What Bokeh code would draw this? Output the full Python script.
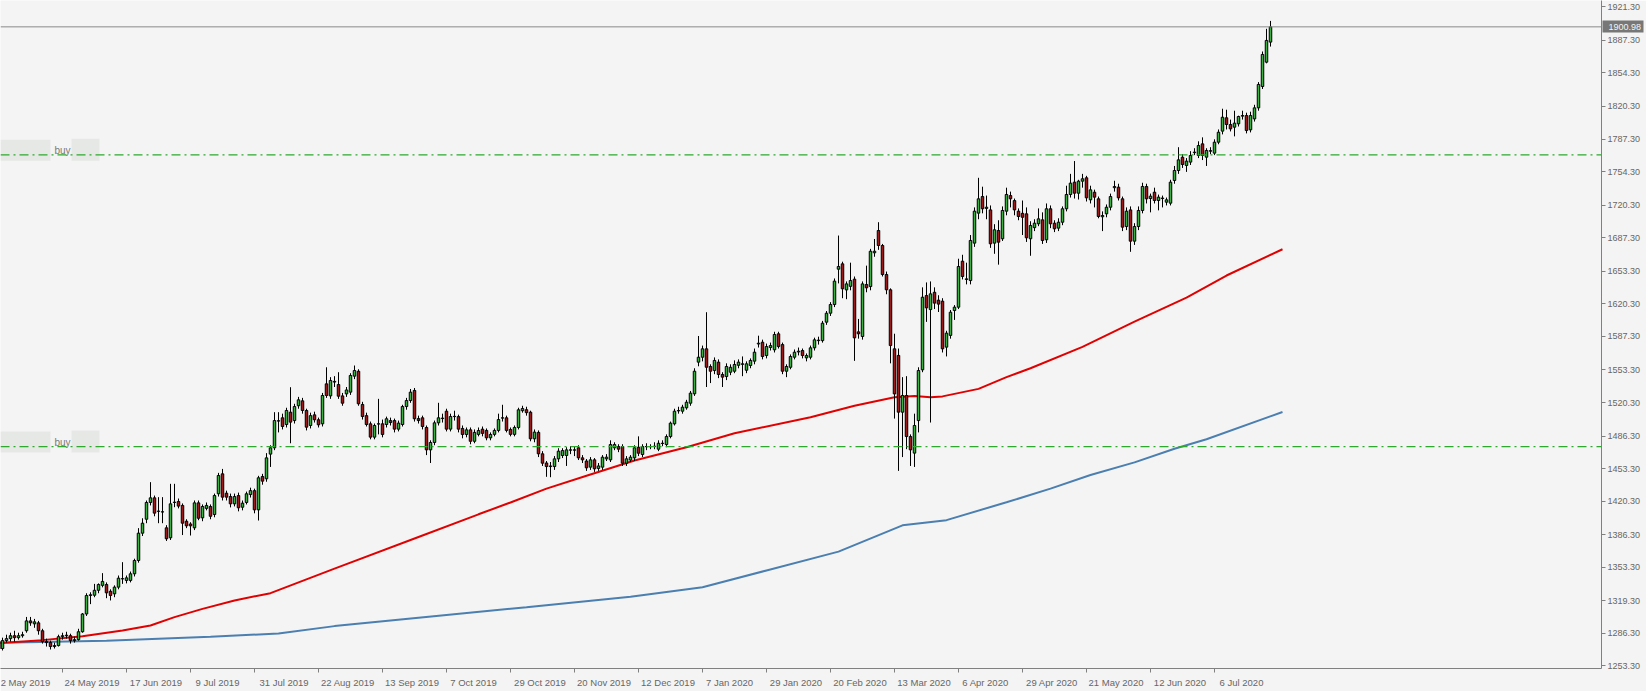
from bokeh.plotting import figure
from bokeh.models import (ColumnDataSource, Range1d, LinearAxis, FixedTicker, Span,
                          Label, PrintfTickFormatter, BoxAnnotation)
from bokeh.embed import file_html
from bokeh.resources import INLINE

# ---------------- data (daily XAUUSD, bars indexed from 2 May 2019) ----------------
open_ = [1278, 1271, 1279, 1281, 1284, 1282, 1284, 1289, 1299, 1296, 1297, 1289, 1278, 1277, 1273, 1274, 1283, 1284.5, 1284, 1279,
         1280, 1288, 1306, 1324.7, 1325, 1330, 1335, 1335.9, 1329, 1326.4, 1333.2, 1341.6, 1340, 1340, 1346.7, 1360.2, 1387.9, 1402, 1419, 1423.7,
         1410, 1409.5, 1393.3, 1383.2, 1419, 1420, 1416, 1400, 1397.2, 1393.3, 1418.6, 1403.4, 1413, 1414.9, 1406.8, 1427.8, 1448, 1428.4, 1425, 1417.6,
         1426, 1414.2, 1419, 1427, 1431, 1411.5, 1445.3, 1443, 1468, 1474.4, 1501.8, 1504.8, 1498, 1510.5, 1502, 1517, 1522, 1512.2, 1497, 1507.8,
         1502.8, 1498.7, 1539.2, 1527, 1541, 1538.5, 1527, 1529, 1530.8, 1547, 1552, 1518.3, 1507, 1498.7, 1485.2, 1498.5, 1498.7, 1498, 1502, 1502,
         1493.3, 1498, 1516.2, 1522.3, 1532.5, 1504, 1504.8, 1495, 1472.3, 1479.8, 1499.7, 1504, 1511.5, 1493.3, 1506.3, 1506, 1494, 1487.9, 1492.6, 1481,
         1488, 1493.3, 1492, 1484.5, 1488, 1492, 1504.5, 1504.8, 1493, 1488, 1495, 1512, 1513, 1510.5, 1483.5, 1490, 1468.3, 1459, 1455.4, 1455.4,
         1463.2, 1466.6, 1466.6, 1472, 1472.3, 1474.4, 1464.2, 1461, 1454.8, 1462.2, 1453.5, 1454.8, 1463.2, 1462.2, 1474.4, 1475.7, 1475.7, 1458.8, 1462, 1464.2,
         1475, 1467.6, 1475.5, 1475.5, 1475.7, 1473, 1478.8, 1477.7, 1485.8, 1498.7, 1511.8, 1511.5, 1514.9, 1519.6, 1529.1, 1561.2, 1566.2, 1574.7, 1556.8, 1552.7,
         1561.2, 1548.7, 1546.6, 1551, 1552, 1558, 1559, 1553, 1557.8, 1562.2, 1579.6, 1581.4, 1567.9, 1576, 1573.7, 1589.9, 1579, 1552, 1556, 1566.2,
         1571.5, 1573, 1565.5, 1566.2, 1575.7, 1583, 1583, 1601.7, 1610.8, 1619.6, 1655.4, 1660.8, 1634.4, 1638, 1645.3, 1591.9, 1587.2, 1639.9, 1637.8, 1672,
         1694.6, 1679.4, 1650, 1634.5, 1574.7, 1568, 1510.5, 1527.4, 1485.8, 1469, 1502, 1553.4, 1628.7, 1614.5, 1632, 1624, 1623, 1576.4, 1588.3, 1613.5,
         1616.9, 1663.5, 1645, 1643.9, 1681.8, 1712.2, 1729, 1717, 1715.5, 1681.8, 1694.6, 1686.2, 1714.2, 1730, 1724.9, 1714.2, 1712, 1711.5, 1686.2, 1697.5,
         1701.4, 1705.4, 1685.2, 1716.6, 1702, 1697, 1703, 1716.6, 1731.1, 1743.6, 1732.4, 1744.6, 1748, 1725.7, 1733.4, 1726.7, 1708.5, 1711.5, 1718.2, 1738,
         1738.5, 1726.7, 1698.6, 1715.5, 1683.8, 1698.6, 1714.9, 1739.2, 1727, 1733.4, 1725, 1727.5, 1723.3, 1722.3, 1745.3, 1755.4, 1768.9, 1760.5, 1763.9, 1773.5,
         1770.6, 1782.4, 1768.9, 1775.5, 1773, 1784.1, 1795.3, 1808.8, 1802, 1799.3, 1802.7, 1810.5, 1811.1, 1796.6, 1807.7, 1818.9, 1840.5, 1865.2, 1885.5]

high = [1281, 1282, 1285, 1287, 1289, 1287, 1288, 1303, 1303, 1301, 1299, 1291, 1281, 1279, 1277, 1285, 1287, 1288, 1286, 1283,
        1291, 1307, 1327, 1328, 1336.5, 1337, 1347.4, 1338, 1331, 1335, 1345, 1358.5, 1345, 1349, 1362, 1393, 1403, 1421, 1439.6, 1426,
        1424.4, 1424.4, 1396, 1437.9, 1437.9, 1423, 1418, 1402, 1399, 1421, 1421, 1417, 1419, 1417, 1428, 1449, 1453, 1431, 1428, 1428,
        1429, 1421, 1430, 1434, 1433, 1446, 1448, 1469, 1477, 1510.5, 1510.5, 1509, 1515, 1535.8, 1519, 1526, 1525, 1514, 1510, 1511,
        1505, 1530, 1556, 1546, 1547, 1551, 1530, 1536, 1550, 1557.8, 1554, 1521, 1510, 1501, 1499, 1524, 1503, 1506, 1505, 1504,
        1502, 1518, 1525, 1534, 1535, 1507, 1507, 1497, 1482, 1502, 1520, 1509, 1514, 1509, 1512, 1508, 1497, 1495, 1495, 1493,
        1495, 1496, 1494, 1490, 1494, 1509, 1518, 1507, 1495, 1497, 1515, 1517, 1516, 1512, 1493, 1492, 1471, 1461, 1460, 1466,
        1474, 1474, 1475, 1476, 1476, 1477, 1467, 1463, 1465, 1464, 1459, 1467, 1468, 1482, 1480, 1478, 1478, 1466, 1467, 1477,
        1486, 1478, 1479, 1478, 1480, 1482, 1482, 1488, 1501, 1514, 1516, 1518, 1523, 1532, 1555, 1587.7, 1578, 1611.8, 1559, 1566,
        1564, 1551, 1560, 1559, 1563, 1564, 1567, 1562, 1565, 1575, 1588, 1584, 1580, 1581, 1592, 1592, 1581, 1559, 1569, 1574,
        1576, 1575, 1570, 1578, 1586, 1587, 1603, 1613, 1622, 1646, 1689.5, 1663, 1643, 1662, 1648, 1605, 1643, 1659, 1676, 1686,
        1703, 1681, 1653, 1636, 1590, 1575, 1546, 1547, 1488, 1509, 1556, 1637, 1642, 1643, 1637, 1629, 1626, 1593, 1614, 1619,
        1666, 1670, 1662, 1690, 1718, 1748, 1739, 1730, 1720, 1701, 1705, 1719, 1738, 1734, 1727, 1717, 1725, 1718, 1704, 1706,
        1717, 1713, 1722, 1720, 1705, 1707, 1719, 1740, 1752, 1765, 1746, 1752, 1750, 1740, 1736, 1729, 1714, 1721, 1732, 1745,
        1742, 1729, 1718, 1719, 1702, 1719, 1743, 1742, 1732, 1738, 1731, 1730, 1728, 1746, 1760, 1779, 1772, 1768, 1775, 1778,
        1785, 1789, 1778, 1779, 1787, 1797, 1818, 1817, 1807, 1816, 1811, 1816, 1814, 1815, 1822, 1845, 1876, 1899, 1907]

low = [1267, 1269, 1277, 1278, 1278, 1280, 1282, 1287, 1294, 1292, 1285, 1276, 1273, 1270, 1271, 1273, 1280, 1281, 1276, 1277,
       1279, 1287, 1304, 1316, 1323, 1327, 1333, 1322, 1319.7, 1323, 1331, 1336.5, 1337, 1338, 1344, 1358, 1385, 1398, 1416, 1405,
       1398, 1398, 1380, 1381, 1414.2, 1413, 1386, 1393, 1385.5, 1391, 1401, 1400, 1411, 1402, 1404, 1425, 1421, 1421, 1414, 1415,
       1410, 1411, 1417, 1424, 1408, 1400.7, 1437, 1440, 1455, 1472, 1490, 1493, 1495, 1479, 1499, 1514, 1509, 1492, 1494, 1500,
       1495, 1496, 1525, 1524, 1536, 1524, 1517, 1526, 1528, 1544, 1517, 1503, 1496, 1483, 1483, 1488, 1485, 1495, 1497, 1490,
       1491, 1496, 1513, 1520, 1501, 1499, 1493, 1467, 1459, 1477, 1497, 1500, 1491, 1491, 1502, 1490, 1484, 1485, 1478, 1479,
       1486, 1486, 1482, 1482, 1486, 1490, 1501, 1490, 1486, 1486, 1493, 1510, 1507, 1481, 1480, 1465, 1456, 1445, 1444.6, 1452,
       1460, 1464, 1456, 1468, 1466, 1462, 1459, 1451, 1452, 1450, 1451, 1452, 1461, 1460, 1472, 1470, 1456, 1456, 1460, 1461,
       1466, 1465, 1472, 1473, 1473, 1471, 1476, 1475, 1484, 1497, 1509, 1509, 1513, 1517, 1527, 1557, 1562, 1536, 1540, 1549,
       1545, 1536, 1543, 1548, 1550, 1555, 1547, 1550, 1555, 1559, 1576, 1564, 1565, 1573, 1571, 1575, 1549, 1546, 1554, 1564,
       1568, 1565, 1562, 1564, 1573, 1579, 1581, 1599, 1608, 1617, 1641, 1626, 1625, 1634, 1562.5, 1585, 1584, 1632, 1634, 1668,
       1675, 1648, 1630, 1560, 1504, 1451, 1465, 1473, 1456, 1455, 1490, 1551, 1602, 1500, 1615, 1612, 1571, 1567, 1585, 1604,
       1615, 1645, 1640, 1640, 1678, 1706, 1712, 1706, 1677, 1671, 1660, 1684, 1710, 1718, 1710, 1705, 1690, 1683, 1669, 1694,
       1699, 1681, 1682, 1697, 1693, 1694, 1700, 1714, 1728, 1727, 1726, 1738, 1724, 1722, 1718, 1707, 1694, 1708, 1715, 1734,
       1725, 1694, 1695, 1673, 1680, 1695, 1712, 1722, 1713, 1722, 1715, 1718, 1720, 1720, 1742, 1752, 1758, 1754, 1761, 1771,
       1768, 1766, 1760, 1772, 1771, 1782, 1792, 1797, 1795, 1790, 1800, 1807, 1793, 1794, 1805, 1816, 1838, 1864, 1881]

close = [1271, 1279, 1281, 1284, 1282, 1284, 1285, 1299, 1297, 1298, 1289, 1278, 1277, 1273, 1274, 1283, 1284, 1284, 1279, 1280,
         1288, 1306, 1324.7, 1325.5, 1330, 1335.8, 1339, 1327.4, 1324.7, 1333.2, 1342.3, 1341.8, 1342.6, 1346.7, 1360.2, 1387.9, 1398, 1419, 1423.7, 1408.2,
         1410.2, 1409.4, 1382.2, 1417.6, 1419.3, 1415.3, 1398, 1395.3, 1395.3, 1418.6, 1403, 1414.9, 1416, 1405, 1426, 1446.3, 1424.4, 1424.4, 1417.6, 1425,
         1413.6, 1418.3, 1427.8, 1431, 1411.5, 1444, 1440.6, 1464.2, 1474.4, 1502, 1501.5, 1496, 1512.2, 1500.4, 1516.2, 1523, 1512.2, 1495.3, 1507, 1502.8,
         1497.7, 1527.4, 1527.4, 1542.6, 1541.7, 1526.7, 1519.6, 1533, 1547.7, 1552.7, 1519, 1506.1, 1498, 1485.2, 1497, 1498.7, 1487.9, 1503.8, 1500, 1493.3,
         1499.4, 1516.2, 1522.3, 1530.8, 1503.8, 1502, 1496, 1472.3, 1479.8, 1499.7, 1504.8, 1504.5, 1493.3, 1506.1, 1506, 1493.3, 1487.9, 1492.6, 1481, 1490,
         1491.9, 1489, 1484.5, 1487.9, 1492, 1503, 1504.8, 1492, 1488, 1495, 1512.9, 1514.2, 1510, 1483.5, 1490.3, 1468.3, 1458.8, 1455.4, 1456, 1463.2,
         1471, 1471.6, 1472.3, 1472.3, 1472, 1464.2, 1462.2, 1454.1, 1462.2, 1453.1, 1456, 1464.9, 1464.9, 1477.7, 1477.7, 1473, 1458.8, 1463.2, 1464.9, 1474.4,
         1468.9, 1475.7, 1475.7, 1475.7, 1476, 1479, 1479, 1485.8, 1499.4, 1511.5, 1512.2, 1515.6, 1520.6, 1529.8, 1552, 1566.2, 1574.7, 1556, 1552, 1562.9,
         1548.7, 1546, 1556.8, 1556, 1558.8, 1561.2, 1559.5, 1559.5, 1562.9, 1571.3, 1580.4, 1566.9, 1577, 1578, 1589.2, 1577, 1552, 1556.8, 1566.9, 1571.3,
         1572.3, 1567.9, 1567.9, 1575.7, 1583.8, 1583.5, 1600.7, 1610.8, 1619.6, 1643.3, 1658.1, 1635.5, 1640.5, 1643.9, 1585.8, 1589.9, 1640.5, 1636.5, 1673.6, 1673.6,
         1679.4, 1650, 1634.5, 1578, 1529, 1510.5, 1527.4, 1485.8, 1472.3, 1497, 1552.7, 1627, 1616.2, 1630.4, 1621, 1620, 1574.7, 1590.6, 1611.8, 1616.9,
         1658.1, 1648, 1645.6, 1684.5, 1714.2, 1726.7, 1716.6, 1718.2, 1681.1, 1695.3, 1682.8, 1714.9, 1731.1, 1726.7, 1715.5, 1708.8, 1708, 1687.2, 1699.7, 1702,
         1706.4, 1684.5, 1716.6, 1701.4, 1696.3, 1703, 1716.6, 1731.1, 1742.6, 1732.4, 1744.6, 1747, 1727.7, 1735.8, 1728.4, 1708.8, 1709.8, 1718.2, 1729, 1739.2,
         1727.7, 1698, 1714.2, 1683.8, 1698.6, 1714.9, 1739.2, 1726.7, 1729.4, 1725, 1728.4, 1727, 1725.7, 1743.6, 1755.4, 1766.2, 1761.5, 1764.9, 1770.6, 1774,
         1780.7, 1770.6, 1775.7, 1775, 1784.1, 1794.2, 1809.4, 1802, 1797.6, 1803.4, 1810.1, 1811.1, 1795.9, 1811.1, 1818.9, 1842.6, 1873, 1887.2, 1900.98]

# moving averages (read at vertices along each line)
ma_red_bar = [0, 11, 21, 31, 38, 44, 51, 59, 68, 84, 105, 120, 128, 137, 147, 159, 172, 184, 203, 214,
              224, 229, 233, 236, 245, 252, 258, 271, 284, 297, 307, 321]
ma_red_val = [1276.5, 1279.5, 1283.5, 1289.3, 1294.3, 1302.8, 1311.2, 1319.7, 1327.1, 1352, 1384, 1407, 1419, 1433, 1446, 1461.5, 1475, 1489.2, 1505.4, 1517,
              1525.7, 1526.8, 1525.7, 1526.5, 1534.1, 1546, 1555, 1576.6, 1602.2, 1626.6, 1649, 1675.6]
ma_blue_bar = [0, 27, 53, 70, 84, 105, 132, 158, 176, 192, 210, 226, 237, 252, 263, 273, 284, 294, 302, 321]
ma_blue_val = [1276.7, 1278.8, 1283, 1286.2, 1293.7, 1302.2, 1312.8, 1323.5, 1333.1, 1350.1, 1369.2, 1395.8, 1401.1, 1419.2, 1433, 1446.9, 1459.6, 1473.5, 1483, 1510.7]

date_tick_bars = [0, 16, 32, 48, 64, 80, 96, 112, 128, 144, 160, 176, 192, 208, 224, 240, 256, 272, 288, 304]
date_tick_labels = ["2 May 2019", "24 May 2019", "17 Jun 2019", "9 Jul 2019", "31 Jul 2019", "22 Aug 2019",
                    "13 Sep 2019", "7 Oct 2019", "29 Oct 2019", "20 Nov 2019", "12 Dec 2019", "7 Jan 2020",
                    "29 Jan 2020", "20 Feb 2020", "13 Mar 2020", "6 Apr 2020", "29 Apr 2020", "21 May 2020",
                    "12 Jun 2020", "6 Jul 2020"]
price_ticks = [1921.3, 1887.3, 1854.3, 1820.3, 1787.3, 1754.3, 1720.3, 1687.3, 1653.3, 1620.3, 1587.3,
               1553.3, 1520.3, 1486.3, 1453.3, 1420.3, 1386.3, 1353.3, 1319.3, 1286.3, 1253.3]
current_price = 1900.98
buy_levels = [1771.3, 1475.6]
buy_text = "buy"

# ---------------- layout ----------------
W, H = 1646, 691
RIGHT, BOTTOM = 45, 23
FRAME_W, FRAME_H = W - RIGHT, H - BOTTOM
X0, X1 = 0.5, 400.75
Y0, Y1 = 1250.75, 1927.68
ppb = FRAME_W / (X1 - X0)
ppu = FRAME_H / (Y1 - Y0)

BG = "#f4f4f4"
AX = "#808080"
TXT = "#666666"
FONT = "Liberation Sans"

p = figure(width=W, height=H, x_range=Range1d(X0, X1), y_range=Range1d(Y0, Y1),
           output_backend="svg", toolbar_location=None, x_axis_location=None, y_axis_location=None,
           background_fill_color=BG, border_fill_color=BG, min_border_left=0, min_border_top=0,
           min_border_right=RIGHT, min_border_bottom=BOTTOM)
p.outline_line_color = None
p.xgrid.visible = False
p.ygrid.visible = False

# redaction smudges around the "buy" labels, and the two buy levels
for lvl in buy_levels:
    p.add_layout(BoxAnnotation(left=X0, right=X0 + 50 / ppb, bottom=lvl - 6 / ppu, top=lvl + 15 / ppu,
                               fill_color="#e6e8e6", fill_alpha=1.0, line_color=None, level="underlay"))
    p.add_layout(BoxAnnotation(left=X0 + 71 / ppb, right=X0 + 99 / ppb, bottom=lvl - 6 / ppu, top=lvl + 16 / ppu,
                               fill_color="#e6e8e6", fill_alpha=1.0, line_color=None, level="underlay"))
    p.add_layout(Span(location=lvl, dimension="width", line_color="#2ea82e", line_width=1.3,
                      line_dash="9 4 2 4"))
    p.add_layout(Label(x=X0 + 54 / ppb, y=lvl, y_offset=-1, text=buy_text, text_font=FONT,
                       text_font_size="10px", text_color="#7a7a7a", text_baseline="bottom"))

p.add_layout(Span(location=current_price, dimension="width", line_color="#8a8a8a", line_width=1))

# moving averages
p.line(ma_blue_bar, ma_blue_val, line_color="#4a7fb0", line_width=2)
p.line(ma_red_bar, ma_red_val, line_color="#e00000", line_width=2)

# candles
xs = list(range(len(close)))
up = [c >= o for o, c in zip(open_, close)]
src_up = ColumnDataSource(dict(
    x=[x for x, u in zip(xs, up) if u],
    top=[c for c, u in zip(close, up) if u], bottom=[o for o, u in zip(open_, up) if u],
    hi=[h for h, u in zip(high, up) if u], lo=[l for l, u in zip(low, up) if u]))
src_dn = ColumnDataSource(dict(
    x=[x for x, u in zip(xs, up) if not u],
    top=[o for o, u in zip(open_, up) if not u], bottom=[c for c, u in zip(close, up) if not u],
    hi=[h for h, u in zip(high, up) if not u], lo=[l for l, u in zip(low, up) if not u]))
for src, col in ((src_up, "#3cb043"), (src_dn, "#9b1b1b")):
    p.segment(x0="x", x1="x", y0="lo", y1="hi", source=src, line_color="black", line_width=1)
    p.vbar(x="x", width=0.62, top="top", bottom="bottom", source=src, fill_color=col,
           line_color="black", line_width=1)

# price axis (right)
yaxis = LinearAxis(ticker=FixedTicker(ticks=price_ticks, minor_ticks=[]),
                   formatter=PrintfTickFormatter(format="%.2f"),
                   axis_line_color=AX, major_tick_line_color=AX, major_tick_out=4, major_tick_in=0,
                   minor_tick_line_color=None, major_label_standoff=2,
                   major_label_text_font=FONT, major_label_text_font_size="9px",
                   major_label_text_color=TXT)
p.add_layout(yaxis, "right")

# current-price tag: an outer axis with one thick inward tick under its own label
tag_axis = LinearAxis(ticker=FixedTicker(ticks=[current_price], minor_ticks=[]),
                      formatter=PrintfTickFormatter(format="%.2f"),
                      axis_line_color=None, major_tick_line_color="#777777",
                      major_tick_line_width=12, major_tick_in=41, major_tick_out=0,
                      minor_tick_line_color=None, major_label_standoff=-35,
                      major_label_text_font=FONT, major_label_text_font_size="9px",
                      major_label_text_color="#f4f4f4")
p.add_layout(tag_axis, "right")

# date axis (below): labels start at the tick, like the terminal
label_centers = [b + (2 + 5.0 * len(t) / 2) / ppb for b, t in zip(date_tick_bars, date_tick_labels)]
xaxis = LinearAxis(ticker=FixedTicker(ticks=label_centers, minor_ticks=date_tick_bars),
                   major_label_overrides={c: t for c, t in zip(label_centers, date_tick_labels)},
                   axis_line_color=AX, major_tick_line_color=None, major_tick_out=0, major_tick_in=0,
                   minor_tick_line_color=AX, minor_tick_out=4, minor_tick_in=0,
                   major_label_standoff=4, major_label_text_font=FONT,
                   major_label_text_font_size="9.5px", major_label_text_color=TXT)
p.add_layout(xaxis, "below")

open("out.html", "w").write(file_html(p, INLINE))
